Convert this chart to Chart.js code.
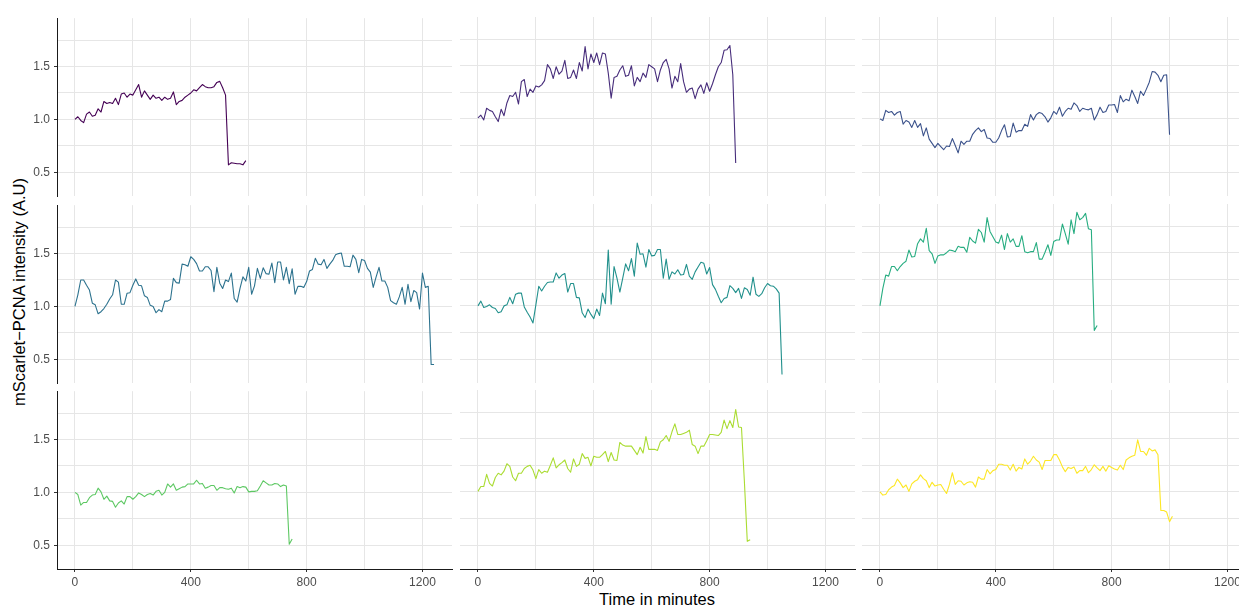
<!DOCTYPE html>
<html>
<head>
<meta charset="utf-8">
<script src="https://cdn.jsdelivr.net/npm/chart.js@4.4.1/dist/chart.umd.min.js"></script>
<style>
  html, body { margin: 0; padding: 0; background: #ffffff; overflow: hidden; }
  #wrap { position: relative; width: 1239px; height: 607px; overflow: hidden;
          font-family: "Liberation Sans", Arial, Helvetica, sans-serif; }
  #wrap canvas { position: absolute; }
  .axis-title { position: absolute; color: #000000; font-size: 16.5px; white-space: nowrap; }
  #xtitle { left: 657px; top: 598.5px; transform: translate(-50%, -50%); }
  #ytitle { left: 18.5px; top: 292px; transform: translate(-50%, -50%) rotate(-90deg); }
</style>
</head>
<body>
<div id="wrap">
  <div class="axis-title" id="xtitle">Time in minutes</div>
  <div class="axis-title" id="ytitle">mScarlet−PCNA intensity (A.U)</div>
</div>
<script>
// Sampling interval of the time-lapse (minutes between frames)
const SAMPLE_INTERVAL = 10;

// Normalised mScarlet-PCNA intensity per cell, one value per frame starting at t = 0
const cell1 = [
  1.00,1.025,0.99,0.97,1.05,1.07,1.03,1.04,1.10,1.07,
  1.17,1.15,1.16,1.15,1.20,1.14,1.24,1.25,1.21,1.24,
  1.23,1.28,1.33,1.21,1.27,1.23,1.19,1.23,1.20,1.21,
  1.18,1.21,1.19,1.20,1.26,1.14,1.17,1.18,1.21,1.23,
  1.25,1.28,1.27,1.30,1.33,1.31,1.30,1.30,1.31,1.35,
  1.36,1.30,1.23,0.57,0.59,0.585,0.58,0.58,0.57,0.61
];
const cell2 = [
  1.01,1.035,0.99,1.10,1.08,1.07,1.02,0.975,1.09,1.03,
  1.15,1.22,1.21,1.25,1.14,1.35,1.37,1.21,1.28,1.25,
  1.31,1.30,1.32,1.36,1.51,1.47,1.38,1.49,1.42,1.45,
  1.55,1.38,1.39,1.46,1.38,1.53,1.45,1.68,1.47,1.61,
  1.53,1.62,1.51,1.62,1.61,1.43,1.195,1.39,1.40,1.46,
  1.50,1.40,1.41,1.50,1.31,1.39,1.35,1.43,1.39,1.51,
  1.49,1.47,1.35,1.46,1.53,1.56,1.47,1.29,1.40,1.35,
  1.52,1.35,1.25,1.28,1.29,1.19,1.28,1.32,1.24,1.34,
  1.26,1.33,1.415,1.49,1.53,1.645,1.65,1.69,1.415,0.585
];
const cell3 = [
  1.00,0.985,1.08,1.06,1.07,1.035,1.06,1.07,0.95,0.985,
  0.97,0.92,0.985,0.92,0.955,0.84,0.915,0.81,0.77,0.73,
  0.77,0.74,0.71,0.745,0.74,0.815,0.75,0.68,0.79,0.76,
  0.79,0.79,0.855,0.89,0.915,0.88,0.90,0.82,0.815,0.78,
  0.78,0.82,0.89,0.945,0.83,0.835,0.96,0.875,0.89,0.89,
  0.95,0.93,1.04,0.99,1.04,1.06,1.05,1.02,0.97,1.01,
  1.07,1.045,1.11,1.025,1.07,1.10,1.09,1.15,1.125,1.07,
  1.10,1.09,1.085,1.10,0.99,1.04,1.11,1.06,1.07,1.13,
  1.13,1.135,1.06,1.22,1.16,1.185,1.17,1.27,1.21,1.145,
  1.26,1.22,1.28,1.345,1.445,1.44,1.41,1.35,1.41,1.415,
  0.85
];
const cell4 = [
  1.00,1.11,1.25,1.25,1.20,1.155,1.03,1.015,0.93,0.95,
  0.98,1.02,1.07,1.11,1.25,1.23,1.02,1.02,1.125,1.13,
  1.20,1.26,1.20,1.195,1.10,1.085,1.01,1.00,0.94,0.97,
  0.95,1.05,1.05,1.065,1.265,1.225,1.22,1.40,1.395,1.38,
  1.47,1.445,1.405,1.335,1.335,1.375,1.375,1.34,1.14,1.37,
  1.22,1.17,1.25,1.235,1.315,1.075,1.04,1.17,1.28,1.24,
  1.37,1.115,1.195,1.36,1.265,1.365,1.31,1.305,1.41,1.225,
  1.42,1.42,1.25,1.37,1.215,1.355,1.115,1.19,1.19,1.18,
  1.235,1.335,1.35,1.455,1.40,1.395,1.445,1.36,1.40,1.435,
  1.49,1.50,1.505,1.38,1.38,1.375,1.485,1.445,1.32,1.445,
  1.435,1.36,1.325,1.18,1.28,1.37,1.24,1.24,1.18,1.055,
  1.035,1.02,1.09,1.18,1.02,1.21,1.045,1.15,1.13,0.975,
  1.315,1.18,1.19,0.45,0.45
];
const cell5 = [
  1.00,1.045,0.985,0.995,1.01,0.985,0.975,0.935,0.945,1.00,
  1.01,1.08,1.02,1.11,1.12,1.12,0.99,0.94,0.895,0.84,
  1.01,1.185,1.14,1.185,1.22,1.225,1.225,1.31,1.26,1.29,
  1.305,1.13,1.21,1.21,1.08,1.075,0.935,0.89,0.97,0.92,
  0.88,0.97,0.91,1.12,1.02,1.525,1.015,1.37,1.26,1.13,
  1.26,1.395,1.33,1.445,1.28,1.59,1.485,1.49,1.365,1.53,
  1.47,1.475,1.53,1.53,1.26,1.44,1.25,1.32,1.30,1.34,
  1.29,1.295,1.39,1.28,1.25,1.32,1.365,1.41,1.40,1.30,
  1.36,1.20,1.155,1.09,1.03,1.07,1.08,1.19,1.165,1.125,
  1.165,1.07,1.17,1.155,1.10,1.27,1.11,1.09,1.115,1.17,
  1.21,1.19,1.185,1.16,1.12,0.355
];
const cell6 = [
  1.00,1.165,1.29,1.28,1.37,1.37,1.33,1.37,1.40,1.42,
  1.525,1.46,1.465,1.585,1.63,1.60,1.73,1.52,1.49,1.40,
  1.47,1.48,1.48,1.50,1.525,1.52,1.51,1.56,1.55,1.55,
  1.505,1.645,1.61,1.59,1.72,1.69,1.60,1.83,1.70,1.65,
  1.60,1.59,1.665,1.53,1.68,1.60,1.63,1.56,1.56,1.66,
  1.51,1.50,1.51,1.51,1.595,1.44,1.44,1.505,1.575,1.475,
  1.605,1.62,1.62,1.77,1.68,1.58,1.81,1.68,1.88,1.81,
  1.83,1.87,1.725,1.715,0.77,0.815
];
const cell7 = [
  1.00,0.98,0.88,0.905,0.905,0.95,0.975,0.98,1.04,1.005,
  0.935,0.965,0.92,0.915,0.86,0.90,0.92,0.89,0.96,0.96,
  0.935,0.96,0.995,0.98,0.96,0.98,0.99,0.975,1.01,1.02,
  0.975,1.00,1.08,1.05,1.08,1.02,1.035,1.05,1.055,1.08,
  1.08,1.08,1.115,1.08,1.085,1.04,1.05,1.065,1.065,1.02,
  1.045,1.045,1.035,1.03,1.04,0.995,1.055,1.045,1.055,1.05,
  1.005,1.01,1.01,1.015,1.06,1.11,1.09,1.07,1.07,1.085,
  1.08,1.055,1.07,1.06,0.51,0.56
];
const cell8 = [
  1.005,1.05,1.05,1.165,1.08,1.055,1.135,1.175,1.16,1.195,
  1.265,1.24,1.14,1.105,1.175,1.175,1.22,1.24,1.25,1.205,
  1.125,1.21,1.175,1.195,1.185,1.25,1.32,1.225,1.255,1.275,
  1.30,1.22,1.185,1.31,1.24,1.26,1.36,1.315,1.325,1.245,
  1.335,1.325,1.325,1.35,1.38,1.285,1.37,1.30,1.295,1.465,
  1.44,1.43,1.43,1.43,1.39,1.35,1.42,1.365,1.52,1.40,
  1.40,1.40,1.39,1.47,1.49,1.53,1.475,1.565,1.64,1.54,
  1.54,1.55,1.56,1.58,1.445,1.43,1.36,1.43,1.43,1.48,
  1.54,1.54,1.535,1.53,1.56,1.675,1.595,1.67,1.605,1.775,
  1.61,1.605,1.10,0.535,0.55
];
const cell9 = [
  1.00,0.97,0.975,1.02,1.045,1.06,1.12,1.085,1.04,1.065,
  1.005,1.075,1.10,1.115,1.16,1.125,1.105,1.04,1.09,1.055,
  1.065,1.07,1.025,0.985,1.07,1.18,1.07,1.105,1.10,1.065,
  1.085,1.095,1.09,1.045,1.14,1.12,1.12,1.21,1.17,1.20,
  1.21,1.26,1.26,1.25,1.25,1.205,1.26,1.195,1.23,1.215,
  1.31,1.26,1.29,1.335,1.30,1.28,1.21,1.295,1.295,1.295,
  1.35,1.35,1.30,1.235,1.19,1.23,1.22,1.235,1.175,1.20,
  1.20,1.24,1.18,1.21,1.255,1.225,1.20,1.24,1.195,1.245,
  1.23,1.215,1.205,1.25,1.21,1.30,1.32,1.335,1.345,1.49,
  1.38,1.38,1.345,1.41,1.385,1.395,1.35,0.825,0.825,0.81,
  0.72,0.77
];

const cells = [cell1, cell2, cell3, cell4, cell5, cell6, cell7, cell8, cell9];

// Axis ticks: grid every 200 min / 0.25 units, labels on a subset
const xGridTicks = [0, 200, 400, 600, 800, 1000, 1200];
const xTickLabels = [0, 400, 800, 1200];
const yGridTicks = [0.5, 0.75, 1.0, 1.25, 1.5, 1.75];
const yTickLabels = [0.5, 1.0, 1.5];

// Shared scale limits (data range plus 5% padding)
const X_MIN = -62, X_MAX = 1302;
const Y_MIN = 0.275, Y_MAX = 1.958;

// viridis palette, one colour per cell
const palette = ['#440154', '#472D7B', '#3B528B', '#2C728E', '#21908C',
                 '#27AD81', '#5DC863', '#AADC32', '#FDE725'];

// Facet geometry
const COL_LEFT = [57, 460, 862];
const ROW_TOP = [17, 204, 390];
const PANEL_W = 395, PANEL_H = 179;
const PAD_L = 60, PAD_R = 10, PAD_T = 10, PAD_B = 30;

const GRID_COLOR = '#e6e6e6';
const AXIS_COLOR = '#1a1a1a';
const TICK_COLOR = '#333333';
const LABEL_COLOR = '#4d4d4d';
const FONT_FAMILY = '"Liberation Sans", Arial, Helvetica, sans-serif';

Chart.defaults.font.family = FONT_FAMILY;

const wrap = document.getElementById('wrap');

cells.forEach((values, i) => {
  const col = i % 3;
  const row = Math.floor(i / 3);
  const leftEdge = col === 0;
  const bottomEdge = row === 2;

  const canvas = document.createElement('canvas');
  canvas.width = PANEL_W + PAD_L + PAD_R;
  canvas.height = PANEL_H + PAD_T + PAD_B;
  canvas.style.left = (COL_LEFT[col] - PAD_L) + 'px';
  canvas.style.top = (ROW_TOP[row] - PAD_T) + 'px';
  wrap.appendChild(canvas);

  const points = values.map((v, k) => ({ x: k * SAMPLE_INTERVAL, y: v }));

  new Chart(canvas, {
    type: 'line',
    data: {
      datasets: [{
        data: points,
        borderColor: palette[i],
        borderWidth: 1.1,
        borderJoinStyle: 'round',
        pointRadius: 0,
        tension: 0,
        fill: false
      }]
    },
    options: {
      responsive: false,
      animation: false,
      devicePixelRatio: 1,
      events: [],
      layout: { padding: { top: PAD_T, right: PAD_R, left: 0, bottom: 0 } },
      plugins: { legend: { display: false }, tooltip: { enabled: false } },
      scales: {
        x: {
          type: 'linear',
          min: X_MIN,
          max: X_MAX,
          afterBuildTicks: s => { s.ticks = xGridTicks.map(v => ({ value: v })); },
          afterFit: s => { s.height = PAD_B; },
          grid: {
            color: GRID_COLOR,
            lineWidth: 1,
            drawTicks: bottomEdge,
            tickLength: 3,
            tickColor: ctx => (ctx.tick && xTickLabels.includes(ctx.tick.value)) ? TICK_COLOR : 'rgba(0,0,0,0)'
          },
          border: { display: bottomEdge, color: AXIS_COLOR, width: 1 },
          ticks: {
            display: bottomEdge,
            autoSkip: false,
            maxRotation: 0,
            padding: 3,
            color: LABEL_COLOR,
            font: { size: 12 },
            callback: v => xTickLabels.includes(v) ? String(v) : ''
          }
        },
        y: {
          type: 'linear',
          min: Y_MIN,
          max: Y_MAX,
          afterBuildTicks: s => { s.ticks = yGridTicks.map(v => ({ value: v })); },
          afterFit: s => { s.width = PAD_L; },
          grid: {
            color: GRID_COLOR,
            lineWidth: 1,
            drawTicks: leftEdge,
            tickLength: 3,
            tickColor: ctx => (ctx.tick && yTickLabels.includes(ctx.tick.value)) ? TICK_COLOR : 'rgba(0,0,0,0)'
          },
          border: { display: leftEdge, color: AXIS_COLOR, width: 1 },
          ticks: {
            display: leftEdge,
            autoSkip: false,
            padding: 4,
            color: LABEL_COLOR,
            font: { size: 12 },
            callback: v => yTickLabels.includes(v) ? v.toFixed(1) : ''
          }
        }
      }
    }
  });
});
</script>
</body>
</html>
